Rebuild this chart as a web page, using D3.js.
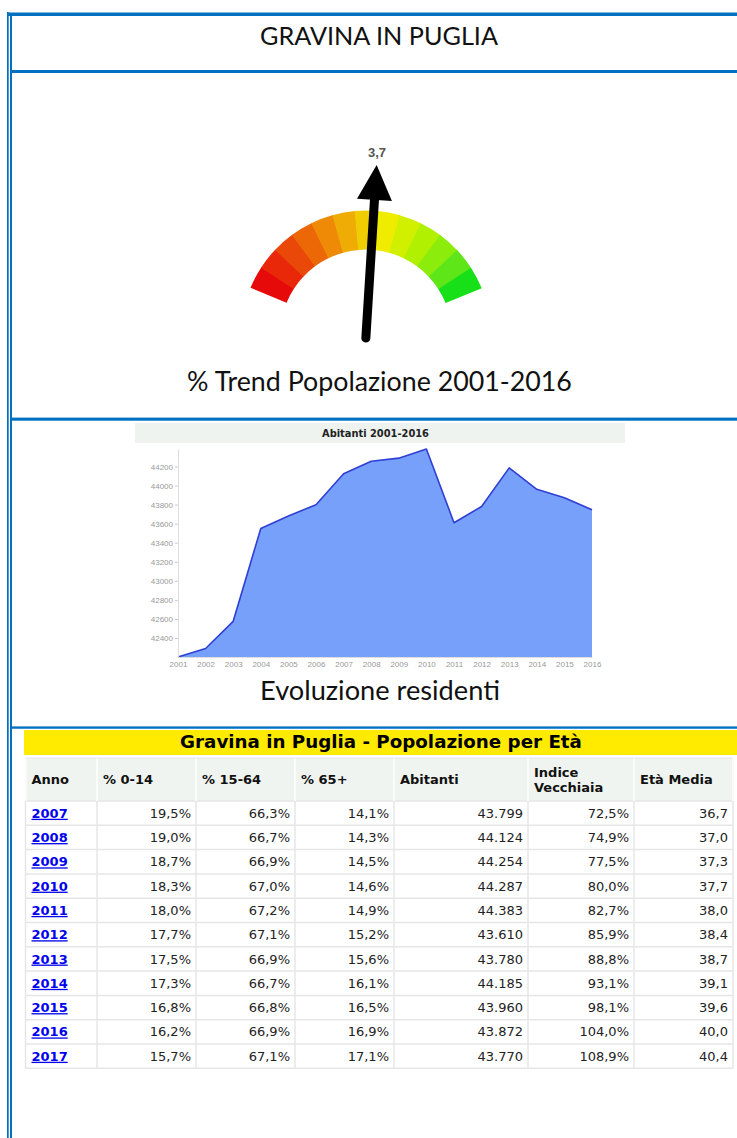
<!DOCTYPE html>
<html>
<head>
<meta charset="utf-8">
<script src="https://cdn.jsdelivr.net/npm/d3@7"></script>
<style>
  body { margin: 0; background: #fff; }
  svg { display: block; }
</style>
</head>
<body>
<script>
const W = 737, H = 1138;
const BLUE = '#0070c0';

// gauge
const trendValue = 3.7;
const gaugeMax = 70;
const gaugeColors = ['#e60a0a', '#e82808', '#ea4808', '#ec6806', '#ee8a06', '#efac04', '#f0cc02', '#f0ec00',
                     '#d0f000', '#b0f000', '#8cec0c', '#5ee618', '#18e018'];

// chart
const years = [2001, 2002, 2003, 2004, 2005, 2006, 2007, 2008, 2009, 2010, 2011, 2012, 2013, 2014, 2015, 2016];
const residents = [42201, 42290, 42575, 43550, 43680, 43799, 44124, 44254, 44287, 44383, 43610, 43780, 44185, 43960, 43872, 43745];
const yTicks = [42400, 42600, 42800, 43000, 43200, 43400, 43600, 43800, 44000, 44200];

// table
const columns = ['Anno', '% 0-14', '% 15-64', '% 65+', 'Abitanti', 'Indice\nVecchiaia', 'Età Media'];
const tYears = [2007, 2008, 2009, 2010, 2011, 2012, 2013, 2014, 2015, 2016, 2017];
const pct014 = [19.5, 19.0, 18.7, 18.3, 18.0, 17.7, 17.5, 17.3, 16.8, 16.2, 15.7];
const pct1564 = [66.3, 66.7, 66.9, 67.0, 67.2, 67.1, 66.9, 66.7, 66.8, 66.9, 67.1];
const pct65 = [14.1, 14.3, 14.5, 14.6, 14.9, 15.2, 15.6, 16.1, 16.5, 16.9, 17.1];
const abitanti = [43799, 44124, 44254, 44287, 44383, 43610, 43780, 44185, 43960, 43872, 43770];
const indiceVecchiaia = [72.5, 74.9, 77.5, 80.0, 82.7, 85.9, 88.8, 93.1, 98.1, 104.0, 108.9];
const etaMedia = [36.7, 37.0, 37.3, 37.7, 38.0, 38.4, 38.7, 39.1, 39.6, 40.0, 40.4];

const it = d3.formatLocale({decimal: ',', thousands: '.', grouping: [3], currency: ['€', '']});
const f1 = it.format('.1f');
const fInt = it.format(',d');

const svg = d3.select('body').append('svg')
    .attr('width', W)
    .attr('height', H);

// scale a text so its width matches what the page shows
function fit(t, w) {
  const len = t.node().getComputedTextLength();
  t.attr('font-size', +t.attr('font-size') * w / len);
}

// ---- frame (double blue borders) ----
const frame = svg.append('g').attr('fill', BLUE);
frame.append('rect').attr('x', 7).attr('y', 12).attr('width', 1.7).attr('height', H - 12);
frame.append('rect').attr('x', 7).attr('y', 12.5).attr('width', W).attr('height', 3.5);
const cells = [[16, 71.7], [73, 419.3], [420.7, 728.5], [728.5, H + 5]];
cells.forEach(([t, b]) => {
  frame.append('rect').attr('x', 10).attr('y', t - 2).attr('width', 2).attr('height', b - t + 2);
  frame.append('rect').attr('x', 10).attr('y', t - 2).attr('width', W).attr('height', 2);
  frame.append('rect').attr('x', 10).attr('y', b - 1.7).attr('width', W).attr('height', 1.7);
});

// ---- title ----
const title = svg.append('text')
    .attr('x', 379).attr('y', 45)
    .attr('text-anchor', 'middle')
    .attr('font-family', 'Lato, "Open Sans", sans-serif')
    .attr('font-size', 24)
    .attr('fill', '#111')
    .text('GRAVINA IN PUGLIA');
fit(title, 238);

// ---- gauge ----
const cx = 366, cy = 335.6;
const ang = d3.scaleLinear().domain([-gaugeMax, gaugeMax]).range([-67.5, 67.5]);
const step = 135 / gaugeColors.length;
const arc = d3.arc().innerRadius(86).outerRadius(125);
const gauge = svg.append('g').attr('transform', `translate(${cx},${cy})`);
gauge.selectAll('path.seg')
  .data(gaugeColors)
  .enter()
  .append('path')
    .classed('seg', true)
    .attr('d', (d, i) => arc({
      startAngle: (-67.5 + i * step) * Math.PI / 180,
      endAngle: (-67.5 + (i + 1) * step + 0.3) * Math.PI / 180
    }))
    .attr('fill', d => d);

const needle = gauge.append('g').attr('transform', `rotate(${ang(trendValue)})`);
needle.append('line')
    .attr('x1', 0).attr('y1', 2.5)
    .attr('x2', 0).attr('y2', -140)
    .attr('stroke', '#000')
    .attr('stroke-width', 9)
    .attr('stroke-linecap', 'round');
needle.append('path')
    .attr('d', 'M0,-171L-17.5,-136L17.5,-136Z')
    .attr('fill', '#000');

svg.append('text')
    .attr('x', 377).attr('y', 157)
    .attr('text-anchor', 'middle')
    .attr('font-family', '"Liberation Sans", Arial, sans-serif')
    .attr('font-size', 13)
    .attr('font-weight', 'bold')
    .attr('fill', '#555')
    .text(it.format('.1f')(trendValue));

const trend = svg.append('text')
    .attr('x', 379.5).attr('y', 391)
    .attr('text-anchor', 'middle')
    .attr('font-family', 'Lato, "Open Sans", sans-serif')
    .attr('font-size', 24)
    .attr('fill', '#111')
    .text('% Trend Popolazione 2001-2016');
fit(trend, 385);

// ---- residents chart ----
svg.append('rect')
    .attr('x', 135).attr('y', 423)
    .attr('width', 490).attr('height', 20)
    .attr('fill', '#eef3ef');
const ctitle = svg.append('text')
    .attr('x', 375.5).attr('y', 437)
    .attr('text-anchor', 'middle')
    .attr('font-family', '"DejaVu Sans", Verdana, sans-serif')
    .attr('font-weight', 'bold')
    .attr('font-size', 10)
    .attr('fill', '#222')
    .text('Abitanti 2001-2016');
fit(ctitle, 107);

const x = d3.scaleLinear().domain([2001, 2016]).range([178, 592]);
const y = d3.scaleLinear().domain(d3.extent(residents)).range([657, 449]);

const chart = svg.append('g');
chart.append('path')
    .datum(residents)
    .attr('d', d3.area().x((d, i) => x(years[i])).y0(y.range()[0]).y1(d => y(d)))
    .attr('fill', '#76a0fa');
chart.append('path')
    .datum(residents)
    .attr('d', d3.line().x((d, i) => x(years[i])).y(d => y(d)))
    .attr('fill', 'none')
    .attr('stroke', '#2f3fd6')
    .attr('stroke-width', 1.6)
    .attr('stroke-linejoin', 'round');

const yAxis = chart.append('g')
    .attr('transform', `translate(${x.range()[0]},0)`)
    .call(d3.axisLeft(y).tickValues(yTicks).tickSize(3).tickSizeOuter(0).tickPadding(2).tickFormat(d3.format('d')));
const xAxis = chart.append('g')
    .attr('transform', `translate(0,${y.range()[0]})`)
    .call(d3.axisBottom(x).tickValues(years).tickSize(0).tickPadding(4).tickFormat(d3.format('d')));
[yAxis, xAxis].forEach(a => {
  a.select('.domain').attr('stroke', '#ddd');
  a.selectAll('.tick line').attr('stroke', '#ccc');
  a.selectAll('text')
    .attr('fill', '#999')
    .attr('font-size', 8)
    .attr('font-family', '"Liberation Sans", Arial, sans-serif');
});

const evo = svg.append('text')
    .attr('x', 380).attr('y', 700)
    .attr('text-anchor', 'middle')
    .attr('font-family', 'Lato, "Open Sans", sans-serif')
    .attr('font-size', 24)
    .attr('fill', '#111')
    .text('Evoluzione residenti');
fit(evo, 240);

// ---- age table ----
svg.append('rect')
    .attr('x', 24).attr('y', 730)
    .attr('width', W - 24).attr('height', 25)
    .attr('fill', '#ffeb00');
const ttitle = svg.append('text')
    .attr('x', 381).attr('y', 748)
    .attr('text-anchor', 'middle')
    .attr('font-family', '"DejaVu Sans", Verdana, sans-serif')
    .attr('font-weight', 'bold')
    .attr('font-size', 17)
    .attr('fill', '#000')
    .text('Gravina in Puglia - Popolazione per Età');
fit(ttitle, 402);

const colEdges = [25.5, 97, 196, 295, 394, 528, 634, 733];
const headTop = 758, headH = 43, rowH = 24.3;
const rowTop = i => headTop + headH + i * rowH;
const tableBottom = rowTop(tYears.length);

const tbl = svg.append('g')
    .attr('font-family', '"DejaVu Sans", Verdana, sans-serif')
    .attr('font-size', 13);

tbl.append('rect')
    .attr('x', colEdges[0]).attr('y', headTop)
    .attr('width', colEdges[7] - colEdges[0]).attr('height', headH)
    .attr('fill', '#f0f4f0');

// grid
tbl.selectAll('line.h')
  .data(d3.range(tYears.length + 1))
  .enter()
  .append('line')
    .attr('x1', colEdges[0]).attr('x2', colEdges[7])
    .attr('y1', i => rowTop(i)).attr('y2', i => rowTop(i))
    .attr('stroke', '#e6e6e6')
    .attr('stroke-width', 1.5);
tbl.selectAll('line.v')
  .data(colEdges)
  .enter()
  .append('line')
    .attr('x1', d => d).attr('x2', d => d)
    .attr('y1', rowTop(0)).attr('y2', tableBottom)
    .attr('stroke', '#e6e6e6')
    .attr('stroke-width', 1.5);
tbl.selectAll('line.hv')
  .data(colEdges)
  .enter()
  .append('line')
    .attr('x1', d => d).attr('x2', d => d)
    .attr('y1', headTop).attr('y2', rowTop(0))
    .attr('stroke', '#fafcfa')
    .attr('stroke-width', 2);
tbl.append('line')
    .attr('x1', colEdges[0]).attr('x2', colEdges[7])
    .attr('y1', headTop).attr('y2', headTop)
    .attr('stroke', '#e6e6e6');

// header
columns.forEach((c, j) => {
  const lines = c.split('\n');
  const t = tbl.append('text')
      .attr('x', colEdges[j] + 6)
      .attr('y', headTop + headH / 2 + 4.5 - (lines.length - 1) * 7.5)
      .attr('font-weight', 'bold')
      .attr('fill', '#111');
  lines.forEach((l, k) => {
    t.append('tspan')
        .attr('x', colEdges[j] + 6)
        .attr('dy', k ? 15 : 0)
        .text(l);
  });
});

// rows
const rows = tYears.map((yr, i) => [
  fInt(yr).replace('.', ''),
  f1(pct014[i]) + '%',
  f1(pct1564[i]) + '%',
  f1(pct65[i]) + '%',
  fInt(abitanti[i]),
  f1(indiceVecchiaia[i]) + '%',
  f1(etaMedia[i])
]);

rows.forEach((r, i) => {
  const by = rowTop(i) + rowH / 2 + 4.6;
  tbl.append('text')
      .attr('x', colEdges[0] + 6).attr('y', by)
      .attr('font-weight', 'bold')
      .attr('fill', '#0000ee')
      .attr('text-decoration', 'underline')
      .text(r[0]);
  r.slice(1).forEach((v, j) => {
    tbl.append('text')
        .attr('x', colEdges[j + 2] - 5).attr('y', by)
        .attr('text-anchor', 'end')
        .attr('fill', '#222')
        .text(v);
  });
});
</script>
</body>
</html>
